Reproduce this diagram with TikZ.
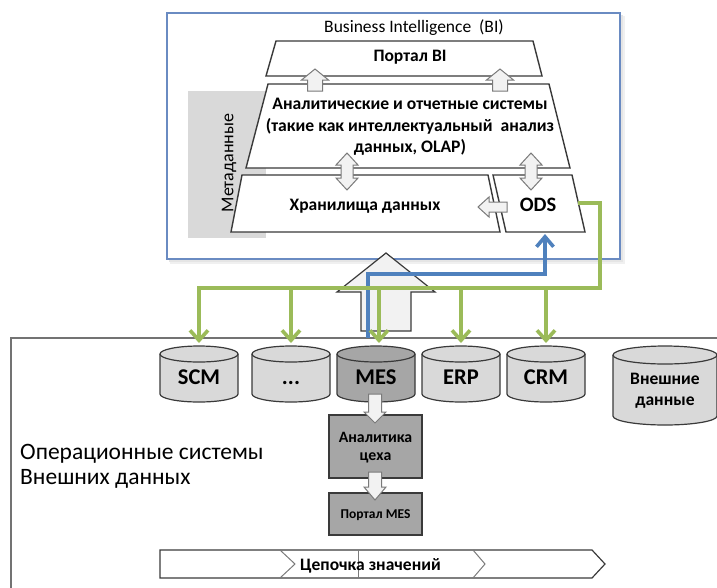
\documentclass[tikz,border=0pt]{standalone}
\usepackage{fontspec}
\setmainfont{Carlito}
\usetikzlibrary{arrows.meta,calc}
\definecolor{bib}{HTML}{6A8BC2}
\definecolor{grn}{HTML}{9BBB59}
\definecolor{blu}{HTML}{4F81BD}
\definecolor{lg}{HTML}{D9D9D9}
\definecolor{mg}{HTML}{A6A6A6}
\definecolor{dk}{HTML}{3A3A3A}
\definecolor{arrf}{HTML}{F2F2F2}
\definecolor{arrd}{HTML}{7A7A7A}
\newcommand\fsz[1]{\fontsize{#1}{#1}\selectfont}
% cylinder: name, cx, r, top centre y, bottom centre y, ry, fill
\newcommand\dbcyl[7]{%
  \filldraw[cyl, fill=#7] ({#2-#3},{-#4}) -- ({#2-#3},{-#5})
     arc[start angle=180,end angle=360,x radius=#3,y radius=#6]
     -- ({#2+#3},{-#4})
     arc[start angle=0,end angle=180,x radius=#3,y radius=#6] -- cycle;
  \draw[cyl] ({#2-#3},{-#4}) arc[start angle=180,end angle=360,x radius=#3,y radius=#6];
  \coordinate (#1-top) at ({#2},{-#4+#6+3});
}
% vertical up block arrow: cx, ytip, ybase, ybottom, half head, half shaft
\newcommand\blkup[6]{%
  \filldraw[barr] ({#1},{-#2}) -- ({#1+#5},{-#3}) -- ({#1+#6},{-#3}) -- ({#1+#6},{-#4})
    -- ({#1-#6},{-#4}) -- ({#1-#6},{-#3}) -- ({#1-#5},{-#3}) -- cycle;}
% vertical down block arrow: cx, ytop, ybase, ytip, half head, half shaft
\newcommand\blkdown[6]{%
  \filldraw[barr] ({#1-#6},{-#2}) -- ({#1+#6},{-#2}) -- ({#1+#6},{-#3}) -- ({#1+#5},{-#3})
    -- ({#1},{-#4}) -- ({#1-#5},{-#3}) -- ({#1-#6},{-#3}) -- cycle;}
% double vertical block arrow: cx, ytop, ybottom, half head, half shaft, head length
\newcommand\blkdouble[6]{%
  \filldraw[barr] ({#1},{-#2}) -- ({#1+#4},{-#2-#6}) -- ({#1+#5},{-#2-#6}) -- ({#1+#5},{-#3+#6})
    -- ({#1+#4},{-#3+#6}) -- ({#1},{-#3}) -- ({#1-#4},{-#3+#6}) -- ({#1-#5},{-#3+#6})
    -- ({#1-#5},{-#2-#6}) -- ({#1-#4},{-#2-#6}) -- cycle;}
\tikzset{
  trap/.style={draw=dk, line width=1.4pt, fill=white},
  barr/.style={draw=arrd, fill=arrf, line width=1pt},
  cyl/.style={draw=dk, line width=1.2pt},
  sbox/.style={draw=dk, line width=1.2pt, fill=mg},
  lbl/.style={inner sep=0pt, align=center, text=black},
  gline/.style={draw=grn, line width=3.6pt, -{Straight Barb[length=10pt,width=18pt]}},
  bline/.style={draw=blu, line width=3.6pt, -{Straight Barb[length=10pt,width=17pt]}},
  chev/.style={draw=dk, line width=1.2pt},
  chevin/.style={draw=arrd, line width=1pt},
}
\begin{document}
\begin{tikzpicture}[x=1pt,y=1pt]
\useasboundingbox (0,0) rectangle (717,-587);
% BI box with soft shadow
\fill[black!6] (170,-16) rectangle (625,-264);
\fill[black!10] (169,-15) rectangle (623,-262);
\filldraw[draw=bib, fill=white, line width=1.2pt] (167,-13) rectangle (620,-259);
\node[lbl, font=\fsz{17.5}] (bititle) at (414,-28) {Business Intelligence\ \ (BI)};
% metadata
\fill[lg] (188,-91) rectangle (266,-238);
\node[lbl, font=\fsz{18}, rotate=90] (meta) at (229,-163) {Метаданные};
% trapezoids
\filldraw[trap] (276,-41) -- (533,-41) -- (542,-76) -- (266,-76) -- cycle;
\filldraw[trap] (268,-84) -- (549,-84) -- (570,-168) -- (246,-168) -- cycle;
\filldraw[trap] (242,-175) -- (488,-175) -- (500,-232) -- (231,-232) -- cycle;
\filldraw[trap] (493,-175) -- (572,-175) -- (585,-232) -- (506,-232) -- cycle;
\node[lbl, font=\fsz{17.5}\bfseries] (portal) at (410,-57) {Портал BI};
\node[lbl, font=\fontsize{17.6}{21.5}\selectfont\bfseries] (anal) at (410,-127)
  {Аналитические и отчетные системы\\(такие как интеллектуальный\ \ анализ\\данных, OLAP)};
\node[lbl, font=\fsz{17.5}\bfseries] (dwh) at (365,-206) {Хранилища данных};
\node[lbl, font=\fsz{20.5}\bfseries] (ods) at (538,-205) {ODS};
\coordinate (odsR) at (578,-203);
\coordinate (odsB) at (545,-234);
% small block arrows
\blkup{315}{69}{80}{91}{13.5}{7.5}
\blkup{500}{69}{80}{91}{13.5}{7.5}
\blkdouble{347}{153}{190}{11}{6}{12}
\blkdouble{531}{153}{190}{11}{6}{12}
\filldraw[barr] (478,-207) -- (489,-197) -- (489,-202) -- (507,-202) -- (507,-212) -- (489,-212) -- (489,-217) -- cycle;
% big up arrow
\filldraw[draw=dk, fill=arrf, line width=1.2pt] (386,-253) -- (435,-292) -- (411,-292) -- (411,-331)
   -- (361,-331) -- (361,-292) -- (337,-292) -- cycle;
% operational systems frame
\draw[draw=black!55, line width=1.4pt] (11,-588) -- (11,-338) -- (718,-338);
% cylinders
\dbcyl{scm}{199}{39}{354}{394}{8}{lg}
\dbcyl{dots}{291}{39}{354}{394}{8}{lg}
\dbcyl{mes}{376}{39}{354}{394}{8}{mg}
\dbcyl{erp}{461}{39}{354}{394}{8}{lg}
\dbcyl{crm}{546}{39}{354}{394}{8}{lg}
\dbcyl{ext}{665}{52}{355}{416}{9}{lg}
\node[lbl, font=\fsz{22.5}\bfseries, anchor=base] (scmt) at (199,-384) {SCM};
\node[lbl, font=\fsz{22.5}\bfseries, anchor=base] (dotst) at (291,-384) {...};
\node[lbl, font=\fsz{22.5}\bfseries, anchor=base] (mest) at (376,-384) {MES};
\node[lbl, font=\fsz{22.5}\bfseries, anchor=base] (erpt) at (461,-384) {ERP};
\node[lbl, font=\fsz{22.5}\bfseries, anchor=base] (crmt) at (546,-384) {CRM};
\node[lbl, font=\fontsize{17.5}{21}\selectfont\bfseries] (extt) at (665,-391) {Внешние\\данные};
% shop boxes
\filldraw[sbox] (329,-415) rectangle (422,-478);
\filldraw[sbox] (329,-493) rectangle (422,-535);
\node[lbl, font=\fontsize{15.8}{18}\selectfont\bfseries] (shop) at (375.5,-448) {Аналитика\\цеха};
\node[lbl, font=\fsz{13.5}\bfseries, anchor=base] (mesp) at (375.5,-518) {Портал MES};
\blkdown{375}{394}{412}{423}{11}{6.5}
\blkdown{375}{472}{487}{500}{11}{6.5}
% blue connector MES -> ODS
\coordinate (bstart) at ($(mes-top)+(-8,5)$);
\draw[bline] (bstart) -- ++(0,64) -| (odsB);
% green connectors ODS -> systems
\coordinate (gcorner) at (600,-288);
\draw[gline] (odsR) -| (gcorner) -| (scm-top);
\draw[gline] (dots-top |- gcorner) -- (dots-top);
\draw[gline] ($(mes-top |- gcorner)+(3,0)$) -- ($(mes-top)+(3,0)$);
\draw[gline] (erp-top |- gcorner) -- (erp-top);
\draw[gline] (crm-top |- gcorner) -- (crm-top);
% left text
\node[lbl, font=\fsz{23.5}, anchor=base west] (op1) at (20,-459) {Операционные системы};
\node[lbl, font=\fsz{23.5}, anchor=base west] (op2) at (20,-484) {Внешних данных};
% value chain
\draw[chev] (160,-550) -- (592,-550) -- (605,-564) -- (592,-578) -- (160,-578) -- cycle;
\draw[chevin] (280,-550) -- (295,-564) -- (280,-578);
\draw[chevin] (473,-550) -- (485,-564) -- (473,-578);
\draw[chevin] (358,-550) -- (358,-578);
\node[lbl, font=\fsz{17.5}\bfseries, anchor=base] (chain) at (370.5,-570) {Цепочка значений};
\end{tikzpicture}
\end{document}
